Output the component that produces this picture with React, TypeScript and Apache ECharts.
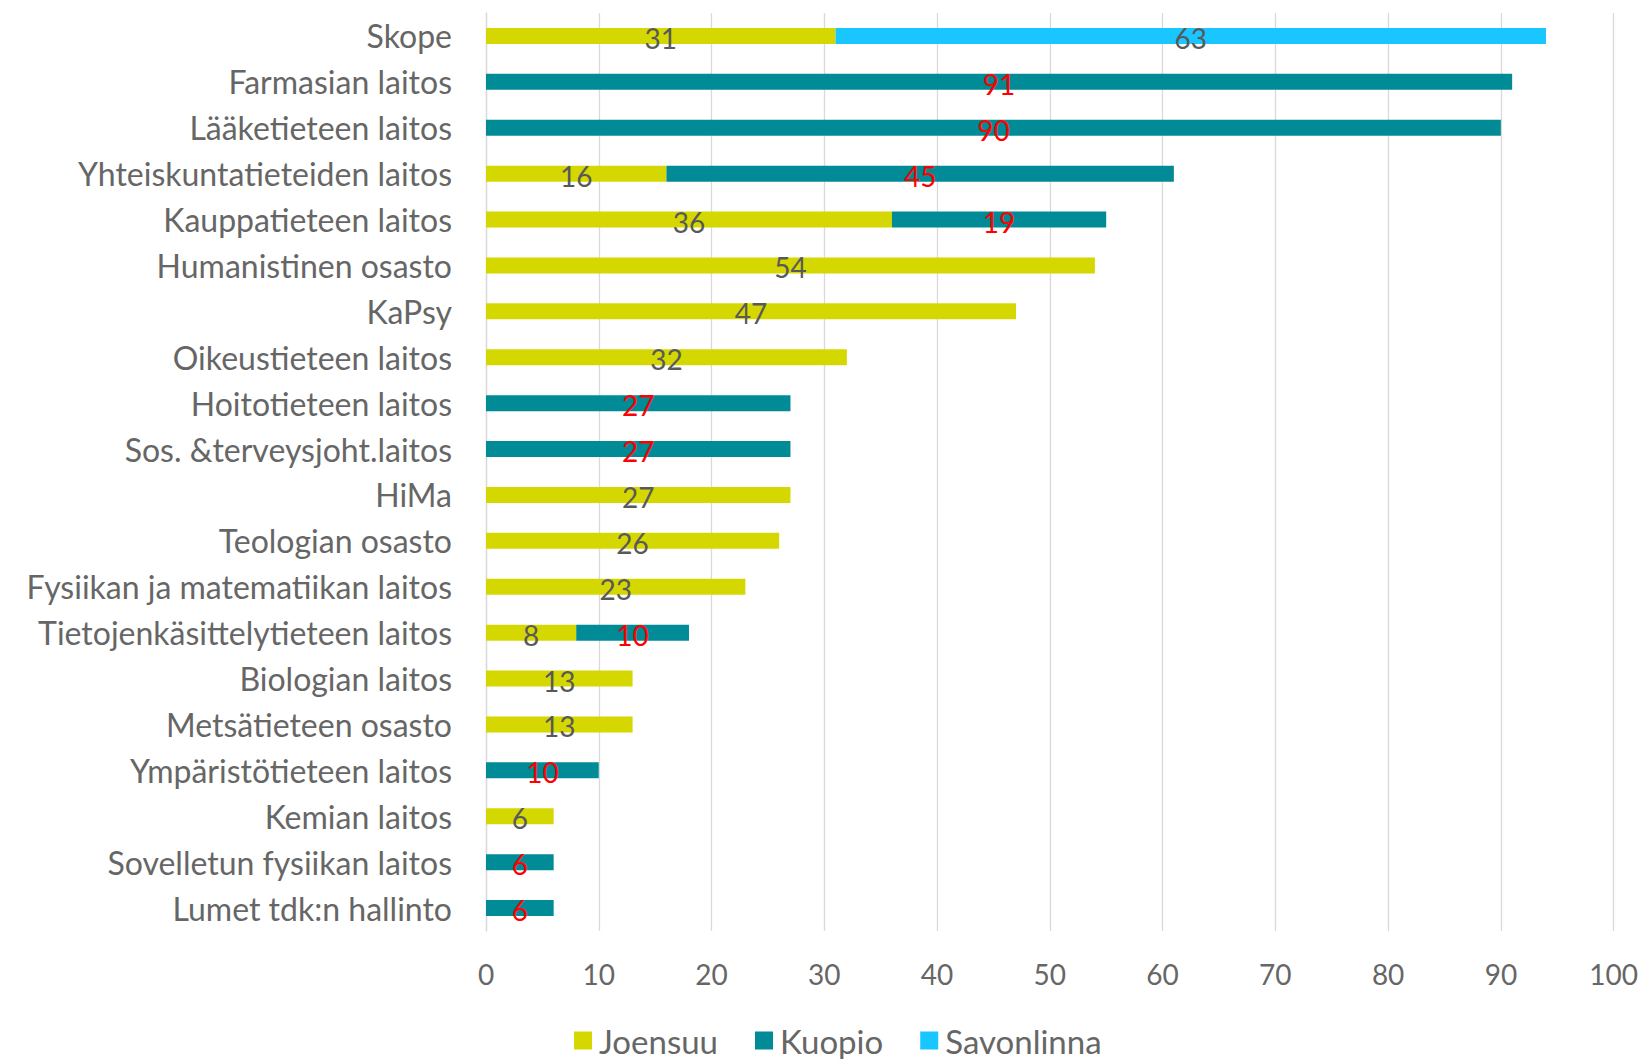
import React, { useEffect, useRef } from "react";
import * as echarts from "echarts";

const categories = [
  "Skope",
  "Farmasian laitos",
  "Lääketieteen laitos",
  "Yhteiskuntatieteiden laitos",
  "Kauppatieteen laitos",
  "Humanistinen osasto",
  "KaPsy",
  "Oikeustieteen laitos",
  "Hoitotieteen laitos",
  "Sos. &terveysjoht.laitos",
  "HiMa",
  "Teologian osasto",
  "Fysiikan ja matematiikan laitos",
  "Tietojenkäsittelytieteen laitos",
  "Biologian laitos",
  "Metsätieteen osasto",
  "Ympäristötieteen laitos",
  "Kemian laitos",
  "Sovelletun fysiikan laitos",
  "Lumet tdk:n hallinto",
];

const joensuu = [31, null, null, 16, 36, 54, 47, 32, null, null, 27, 26, 23, 8, 13, 13, null, 6, null, null];
const kuopio = [null, 91, 90, 45, 19, null, null, null, 27, 27, null, null, null, 10, null, null, 10, null, 6, 6];
const savonlinna = [63, null, null, null, null, null, null, null, null, null, null, null, null, null, null, null, null, null, null, null];

const xTicks = { min: 0, max: 100, interval: 10 };

const FONT = "Lato";
const TEXT = "#666666";

export default function App() {
  const ref = useRef<HTMLDivElement>(null);
  useEffect(() => {
    document.body.style.margin = "0";
    const chart = echarts.init(ref.current!, null, { renderer: "svg" });
    const label = (color: string) => ({
      show: true,
      position: "inside",
      color,
      fontFamily: FONT,
      fontSize: 28,
      offset: [0, 2],
    });
    chart.setOption({
      animation: false,
      textStyle: { fontFamily: FONT },
      grid: { left: 486, right: 25, top: 13, bottom: 128, containLabel: false },
      xAxis: {
        type: "value",
        min: xTicks.min,
        max: xTicks.max,
        interval: xTicks.interval,
        axisLine: { show: false },
        axisTick: { show: false },
        splitLine: { show: true, lineStyle: { color: "#d9d9d9", width: 1.3 } },
        axisLabel: { color: TEXT, fontSize: 28, fontFamily: FONT, margin: 29 },
      },
      yAxis: {
        type: "category",
        data: categories,
        inverse: true,
        axisLine: { show: true, lineStyle: { color: "#d9d9d9", width: 1.3 } },
        axisTick: { show: false },
        axisLabel: { color: TEXT, fontSize: 32, fontFamily: FONT, margin: 34 },
      },
      legend: {
        top: 1019,
        left: 569,
        icon: "rect",
        itemWidth: 18,
        itemHeight: 18,
        itemGap: 37,
        textStyle: { color: TEXT, fontSize: 33, fontFamily: FONT, padding: [0, 0, 0, 2] },
        data: ["Joensuu", "Kuopio", "Savonlinna"],
      },
      series: [
        {
          name: "Joensuu",
          type: "bar",
          stack: "total",
          barWidth: 16,
          data: joensuu,
          itemStyle: { color: "#d5d800" },
          label: label("#595959"),
        },
        {
          name: "Kuopio",
          type: "bar",
          stack: "total",
          barWidth: 16,
          data: kuopio,
          itemStyle: { color: "#008b96" },
          label: label("#ff0000"),
        },
        {
          name: "Savonlinna",
          type: "bar",
          stack: "total",
          barWidth: 16,
          data: savonlinna,
          itemStyle: { color: "#1ac6ff" },
          label: label("#595959"),
        },
      ],
    });
    return () => chart.dispose();
  }, []);
  return <div ref={ref} style={{ width: 1641, height: 1059 }} />;
}
